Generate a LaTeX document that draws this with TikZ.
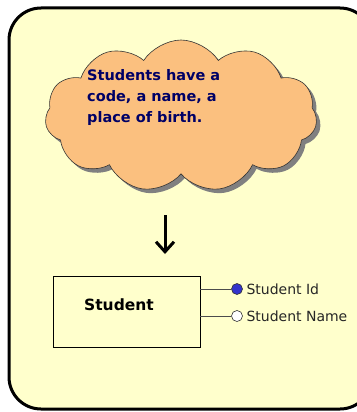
\documentclass[tikz,border=0pt]{standalone}
\usepackage{fontspec}
\setmainfont{DejaVu Sans}
\usetikzlibrary{shapes.symbols,arrows.meta}
\definecolor{panel}{HTML}{FFFFCC}
\definecolor{cloudfill}{HTML}{FBC07F}
\definecolor{navy}{HTML}{000066}
\definecolor{keyblue}{HTML}{3333CC}
\tikzset{
  note/.style={cloud, cloud puffs=11, cloud puff arc=115, aspect=1.8,
    minimum width=272pt, minimum height=152pt, inner sep=0pt},
  entity/.style={draw=black, line width=0.9pt, minimum width=147pt,
    minimum height=71pt, inner sep=0pt},
  attr/.style={circle, draw=black!80, line width=0.6pt, minimum size=11pt, inner sep=0pt},
  attrlabel/.style={anchor=west, inner sep=3.5pt, font=\fontsize{14}{16}\selectfont, text=black!85},
  link/.style={draw=black!70, line width=0.9pt}
}
\begin{document}
\begin{tikzpicture}[x=1pt,y=-1pt]
\useasboundingbox (0,0) rectangle (356,412);
% outer panel
\draw[fill=panel, line width=3pt, rounded corners=32pt] (9,8) rectangle (372,409);
% thought cloud with drop shadow
\node[note, fill=black!50] at (185,120) {};
\node[note, fill=cloudfill, draw=black!80, line width=0.6pt] (idea) at (181,116) {};
\node[anchor=north west, align=left, text=navy, inner sep=0pt,
  font=\bfseries\fontsize{14.5}{21}\selectfont] (txt) at (87,69)
  {Students have a\\code, a name, a\\place of birth.};
% arrow down to the entity
\coordinate (a1) at (165,215);
\coordinate (a2) at (165,254);
\draw[line width=3pt, -{Straight Barb[length=10pt,width=18pt]}] (a1) -- (a2);
% entity box
\node[entity] (student) at (126.5,311.5) {};
\node[font=\bfseries\fontsize{15.5}{17}\selectfont] (sname) at (119,305) {Student};
% attributes
\node[attr, fill=keyblue] (id) at (237,289) {};
\node[attr, fill=white] (nm) at (237,316) {};
\draw[link] (student.east |- id) -- (id);
\draw[link] (student.east |- nm) -- (nm);
\node[attrlabel] (idl) at (id.east) {Student Id};
\node[attrlabel] (nml) at (nm.east) {Student Name};
\end{tikzpicture}
\end{document}
